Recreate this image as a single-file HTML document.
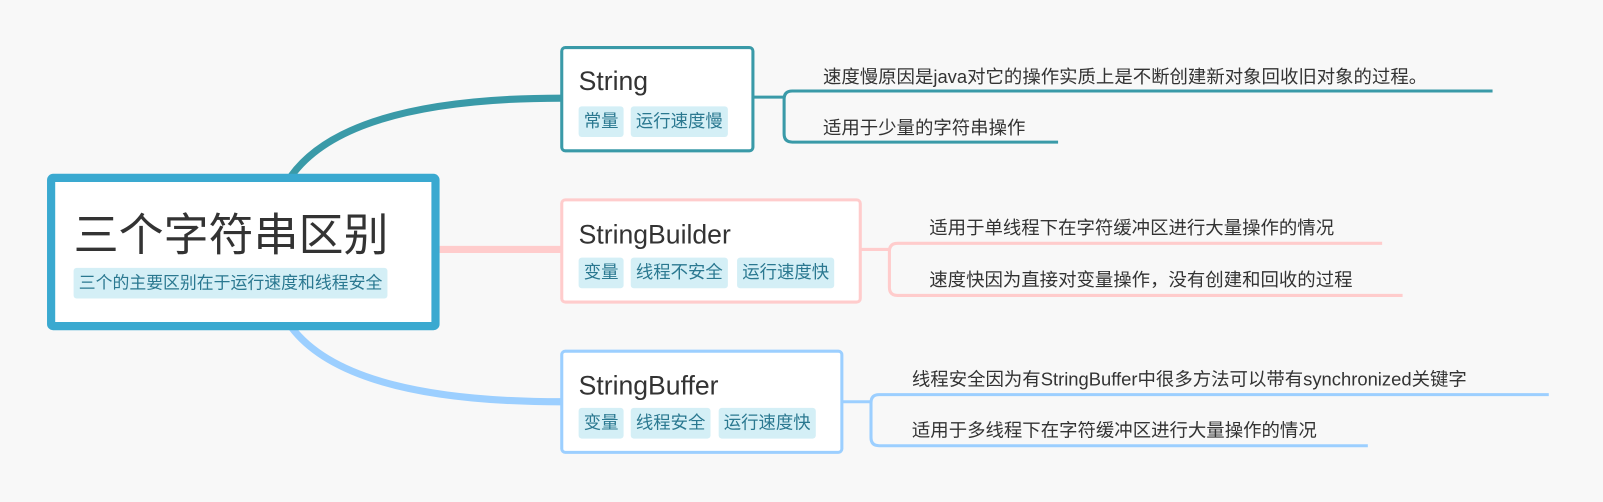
<!DOCTYPE html>
<html><head><meta charset="utf-8"><style>
body{margin:0;width:1603px;height:502px;background:#f8f8f8;font-family:"Liberation Sans","Noto Sans CJK SC",sans-serif;overflow:hidden}
#w{position:absolute;left:0;top:0;width:1568px;height:491px;transform:scale(1.0223);transform-origin:0 0}
.a{position:absolute}
.box{position:absolute;background:#fff;box-sizing:border-box;border-radius:5px}
.t{position:absolute;font-size:26px;color:#333;white-space:nowrap}
.tag{position:absolute;background:#d4eff6;color:#2a7890;font-size:17px;border-radius:3px;padding:0 5px;height:30px;line-height:30px;white-space:nowrap}
.l{position:absolute;font-size:18px;color:#333;white-space:nowrap}
</style></head><body><div id="w">
<svg class="a" style="left:0;top:0" width="1568" height="491">
<path d="M285 172 Q340 96 549 96" fill="none" stroke="#3a9aa8" stroke-width="7"/>
<line x1="430" y1="244" x2="549" y2="244" stroke="#ffcccc" stroke-width="7"/>
<path d="M285 320 Q340 393 549 393" fill="none" stroke="#9ccfff" stroke-width="7"/>
<g fill="none" stroke-width="3">
<path d="M737 95 H767 M1460 89 H775 Q767 89 767 97 V131 Q767 139 775 139 H1035" stroke="#3a9aa8"/>
<path d="M842 244 H870 M1352 238 H878 Q870 238 870 246 V281 Q870 289 878 289 H1372" stroke="#ffcccc"/>
<path d="M824 393 H852 M1515 386 H860 Q852 386 852 394 V428 Q852 436 860 436 H1338" stroke="#9ccfff"/>
</g>
</svg>
<div class="box" style="left:46px;top:170px;width:384px;height:153px;border:8px solid #3aa9d0;border-radius:6px"></div>
<div class="t" style="left:72px;top:201px;font-size:44px;line-height:60px">三个字符串区别</div>
<div class="tag" style="left:72px;top:262px;height:30px;line-height:30px;font-size:16.5px">三个的主要区别在于运行速度和线程安全</div>

<div class="box" style="left:548px;top:45px;width:190px;height:104px;border:3px solid #3a9aa8"></div>
<div class="t" style="left:566px;top:64px">String</div>
<div class="tag" style="left:566px;top:104px">常量</div>
<div class="tag" style="left:617px;top:104px">运行速度慢</div>

<div class="box" style="left:548px;top:194px;width:295px;height:103px;border:3px solid #ffcccc"></div>
<div class="t" style="left:566px;top:214px">StringBuilder</div>
<div class="tag" style="left:566px;top:252px">变量</div>
<div class="tag" style="left:617px;top:252px">线程不安全</div>
<div class="tag" style="left:721px;top:252px">运行速度快</div>

<div class="box" style="left:548px;top:342px;width:277px;height:102px;border:3px solid #9ccfff"></div>
<div class="t" style="left:566px;top:362px">StringBuffer</div>
<div class="tag" style="left:566px;top:399px">变量</div>
<div class="tag" style="left:617px;top:399px">线程安全</div>
<div class="tag" style="left:703px;top:399px">运行速度快</div>

<div class="l" style="left:805px;top:61px">速度慢原因是java对它的操作实质上是不断创建新对象回收旧对象的过程。</div>
<div class="l" style="left:805px;top:111px">适用于少量的字符串操作</div>
<div class="l" style="left:909px;top:209px">适用于单线程下在字符缓冲区进行大量操作的情况</div>
<div class="l" style="left:909px;top:260px">速度快因为直接对变量操作，没有创建和回收的过程</div>
<div class="l" style="left:892px;top:357px">线程安全因为有StringBuffer中很多方法可以带有synchronized关键字</div>
<div class="l" style="left:892px;top:407px">适用于多线程下在字符缓冲区进行大量操作的情况</div>
</div></body></html>
